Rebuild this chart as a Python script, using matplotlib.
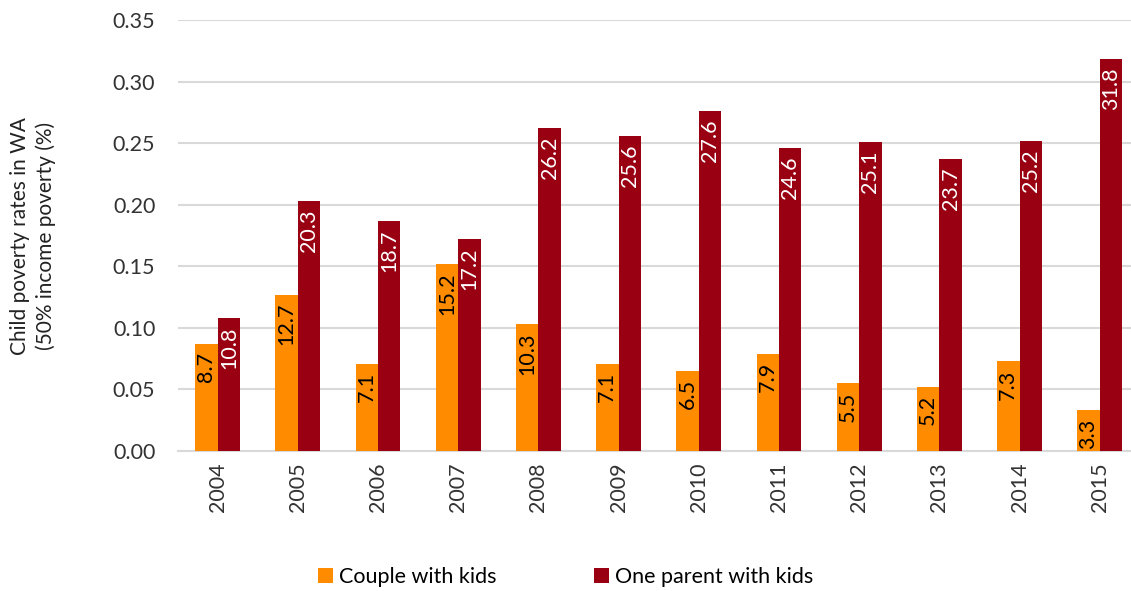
import numpy as np
import matplotlib.pyplot as plt

plt.rcParams['font.family'] = ['Lato', 'DejaVu Sans']

# years and poverty rates (%)
years = ['2004', '2005', '2006', '2007', '2008', '2009', '2010', '2011', '2012', '2013', '2014', '2015']
couple = [8.7, 12.7, 7.1, 15.2, 10.3, 7.1, 6.5, 7.9, 5.5, 5.2, 7.3, 3.3]
one_parent = [10.8, 20.3, 18.7, 17.2, 26.2, 25.6, 27.6, 24.6, 25.1, 23.7, 25.2, 31.8]

c_orange = '#ff8c00'
c_red = '#990011'

fig = plt.figure(figsize=(11.31, 5.91), dpi=100)
ax = fig.add_axes([0.157, 0.237, 0.843, 0.729])

x = np.arange(len(years))
w = 0.28
b1 = ax.bar(x - w/2, np.array(couple) / 100, w, color=c_orange, label='Couple with kids', zorder=3)
b2 = ax.bar(x + w/2, np.array(one_parent) / 100, w, color=c_red, label='One parent with kids', zorder=3)

for rect, v in zip(b1, couple):
    ax.annotate(f'{v}', (rect.get_x() + rect.get_width()/2, rect.get_height()),
                xytext=(0, -6), textcoords='offset points', rotation=90,
                ha='center', va='top', fontsize=15.5, color='black', zorder=4)
for rect, v in zip(b2, one_parent):
    ax.annotate(f'{v}', (rect.get_x() + rect.get_width()/2, rect.get_height()),
                xytext=(0, -6), textcoords='offset points', rotation=90,
                ha='center', va='top', fontsize=15.5, color='white', zorder=4)

ax.set_ylim(0, 0.35)
ax.set_yticks(np.arange(0, 0.351, 0.05))
ax.set_yticklabels([f'{t:.2f}' for t in np.arange(0, 0.351, 0.05)])
ax.set_xlim(-0.5, 11.39)
ax.set_xticks(x)
ax.set_xticklabels(years, rotation=90)
ax.tick_params(axis='both', length=0, labelsize=15.5, colors='#333333')
ax.tick_params(axis='x', pad=8)
ax.tick_params(axis='y', pad=16)
ax.grid(axis='y', color='#d9d9d9', linewidth=1.5, zorder=0)
for s in ['top', 'right', 'left']:
    ax.spines[s].set_visible(False)
ax.spines['bottom'].set_color('#d9d9d9')
ax.spines['bottom'].set_linewidth(1.5)

fig.text(0.029, 0.6, 'Child poverty rates in WA\n(50% income poverty (%)', rotation=90,
         ha='center', va='center', fontsize=15, color='#222222', linespacing=1.3)

fig.legend(handles=[b1, b2], loc='center', bbox_to_anchor=(0.5, 0.024), ncol=2,
           frameon=False, fontsize=15.5, handlelength=0.7, handleheight=0.7,
           columnspacing=4.5, handletextpad=0.3)

fig.savefig('out.png', dpi=100)
